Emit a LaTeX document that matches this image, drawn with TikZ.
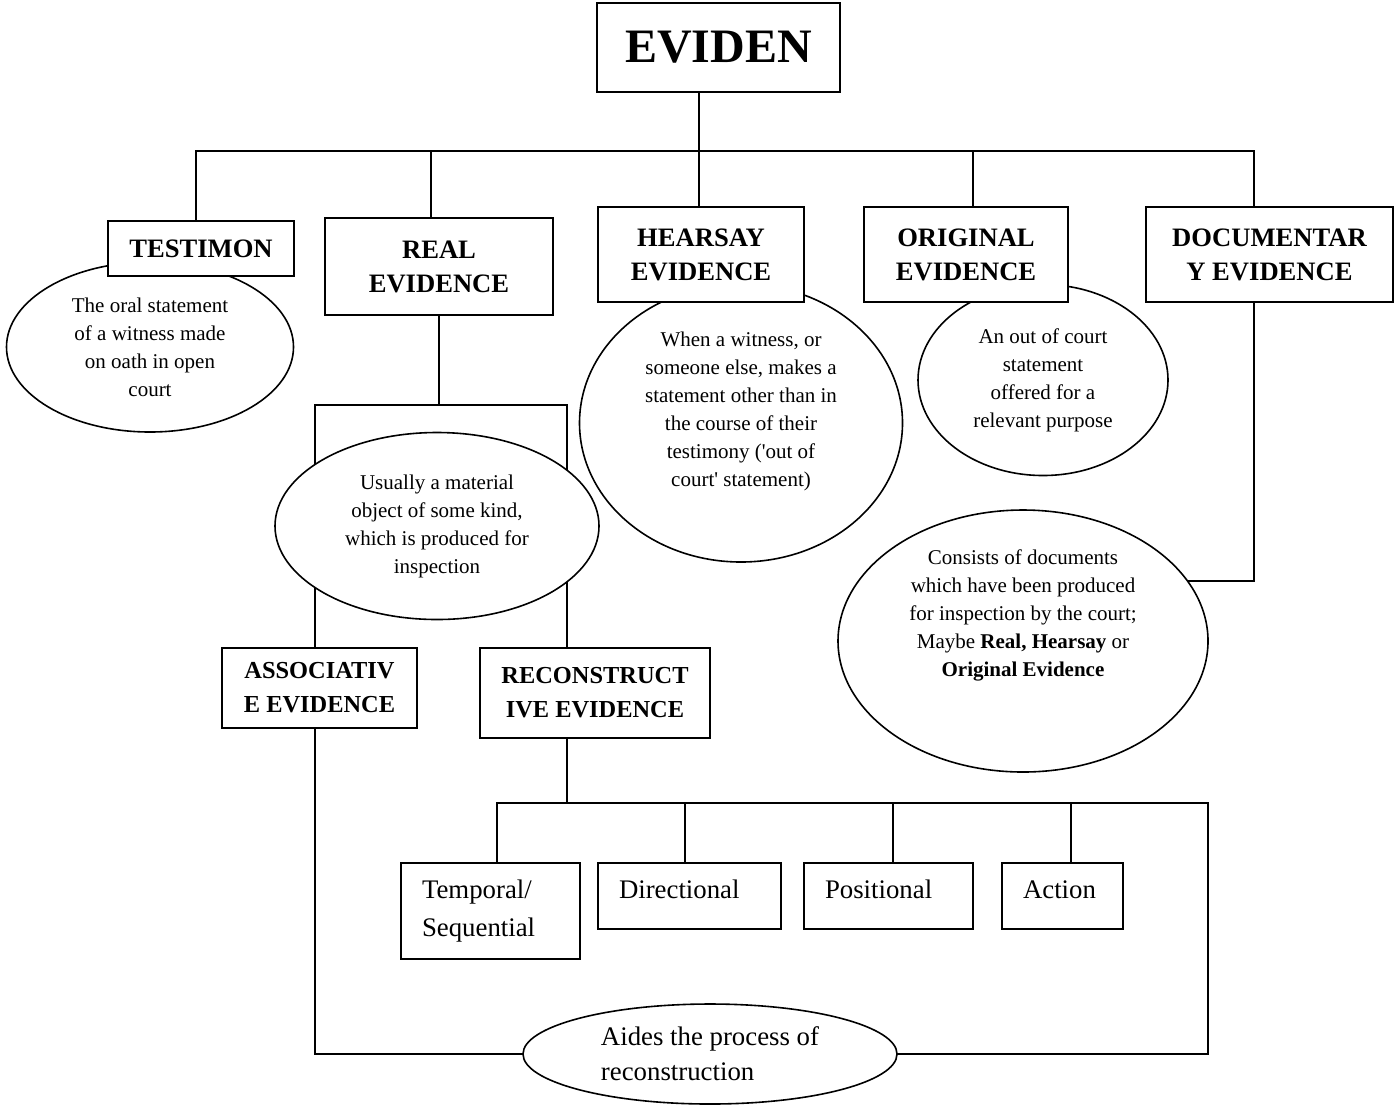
\documentclass[tikz,border=0pt]{standalone}
\usepackage{fontspec}
\setmainfont{Liberation Serif}
\usetikzlibrary{shapes.geometric,backgrounds}

\begin{document}
\begin{tikzpicture}[x=0.5pt, y=-0.5pt, line width=1pt,
    every on background layer/.style={line width=1pt, line cap=rect},
    head/.style={draw, fill=white, align=center, inner sep=2pt, font=\fontsize{13.3}{17}\selectfont\bfseries},
    note/.style={draw, ellipse, fill=white, line width=0.8pt, inner sep=0pt, align=center, font=\fontsize{10.5}{14}\selectfont},
    kind/.style={draw, fill=white, anchor=north, align=left, inner xsep=10.5pt, inner ysep=5pt, font=\fontsize{13.4}{19}\selectfont},
    onekind/.style={kind, text height=12.5pt, text depth=10.5pt}]
    \useasboundingbox (0,0) rectangle (1395,1105);

    \node[head, minimum width=121.5pt, minimum height=44.5pt, font=\fontsize{24}{28}\selectfont\bfseries] (title) at (718.5,47.5) {EVIDEN};

    \node[note, minimum width=143.5pt, minimum height=85pt] (testnote) at (150,347) {The oral statement\\of a witness made\\on oath in open\\court};
    \node[note, minimum width=162pt, minimum height=93.5pt] (matnote) at (437,526) {Usually a material\\object of some kind,\\which is produced for\\inspection};
    \node[note, minimum width=161.5pt, minimum height=139pt] (hearnote) at (741,423) {When a witness, or\\someone else, makes a\\statement other than in\\the course of their\\testimony (\textquotesingle out of\\court\textquotesingle{} statement)\\ \mbox{}};
    \node[note, minimum width=125pt, minimum height=95.5pt] (orignote) at (1043,380) {An out of court\\statement\\offered for a\\relevant purpose};
    \node[note, minimum width=185pt, minimum height=131pt] (docnote) at (1023,641) {Consists of documents\\which have been produced\\for inspection by the court;\\Maybe \textbf{Real, Hearsay} or\\\textbf{Original Evidence}\\ \mbox{}\\ \mbox{}};
    \node[note, align=left, minimum width=187pt, minimum height=50pt, font=\fontsize{13.4}{17.5}\selectfont] (aidesnote) at (710,1054) {Aides the process of\\reconstruction};

    \node[head, minimum width=93pt, minimum height=27.5pt] (testimon) at (201,248.5) {TESTIMON};
    \node[head, minimum width=114pt, minimum height=48.5pt] (real) at (439,266.5) {REAL\\EVIDENCE};
    \node[head, minimum width=103pt, minimum height=47.5pt] (hearsay) at (701,254.5) {HEARSAY\\EVIDENCE};
    \node[head, minimum width=102pt, minimum height=47.5pt] (original) at (966,254.5) {ORIGINAL\\EVIDENCE};
    \node[head, minimum width=123.5pt, minimum height=47.5pt] (docum) at (1269.5,254.5) {DOCUMENTAR\\Y EVIDENCE};
    \node[head, minimum width=97.5pt, minimum height=40pt, font=\fontsize{12.2}{17}\selectfont\bfseries] (assoc) at (319.5,688) {ASSOCIATIV\\E EVIDENCE};
    \node[head, minimum width=115pt, minimum height=45pt, font=\fontsize{12.2}{17}\selectfont\bfseries] (recon) at (595,693) {RECONSTRUCT\\IVE EVIDENCE};

    \node[kind, text width=68.5pt, minimum height=48pt] (temporal) at (490.5,862) {Temporal/\\Sequential};
    \node[onekind, text width=70.5pt] (directional) at (689.5,862) {Directional};
    \node[onekind, text width=63.5pt] (positional) at (888.5,862) {Positional};
    \node[onekind, text width=39.5pt] (action) at (1062.5,862) {Action};

    \coordinate (topbus) at (699,151);
    \coordinate (realbar) at (439,405);
    \coordinate (lowbus) at (1208,803);

    \begin{scope}[on background layer]
    \draw (title.south -| topbus) -- (topbus);
    \draw ([xshift=-2.5pt]testimon.north |- topbus) -- ([xshift=-8pt]docum.north |- topbus);
    \foreach \n/\dx in {testimon/-2.5pt, real/-4pt, hearsay/-1pt, original/3.5pt, docum/-8pt}
      \draw ([xshift=\dx]\n.north) -- ([xshift=\dx]\n.north |- topbus);
    \draw (real.south) -- (realbar);
    \draw ([xshift=-2.25pt]assoc.north) |- (realbar) -| ([xshift=-14pt]recon.north);
    \draw ([xshift=-8pt]docum.south) |- (docnote.20);
    \draw ([xshift=-14pt]recon.south) -- ([xshift=-14pt]recon.south |- lowbus);
    \draw ([xshift=-2.25pt]assoc.south) |- (aidesnote.center) -| (lowbus) -- ([xshift=3.25pt]temporal.north |- lowbus) -- ([xshift=3.25pt]temporal.north);
    \foreach \n/\dx in {directional/-2.25pt, positional/2.25pt, action/4.25pt}
      \draw ([xshift=\dx]\n.north) -- ([xshift=\dx]\n.north |- lowbus);
    \end{scope}
\end{tikzpicture}
\end{document}
